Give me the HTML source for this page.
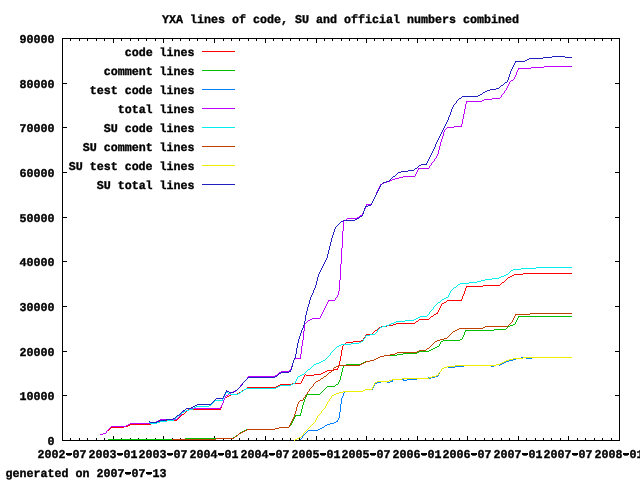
<!DOCTYPE html>
<html><head><meta charset="utf-8"><title>YXA lines of code</title>
<style>
html,body{margin:0;padding:0;background:#fff;}
body{width:640px;height:480px;overflow:hidden;}
svg{display:block;will-change:transform;}
text{font-family:"Liberation Mono","DejaVu Sans Mono",monospace;font-weight:bold;font-size:11.9px;fill:#000;text-rendering:geometricPrecision;stroke:#000;stroke-width:0.35px;}
</style></head><body>
<svg width="640" height="480" viewBox="0 0 640 480">
<rect width="640" height="480" fill="#fff"/>
<g stroke="#000" stroke-width="1" fill="none" shape-rendering="crispEdges">
<rect x="62.5" y="38.5" width="557" height="402"/>
<path d="M63 395.5H67M619 395.5H615"/><path d="M63 351.5H67M619 351.5H615"/><path d="M63 306.5H67M619 306.5H615"/><path d="M63 261.5H67M619 261.5H615"/><path d="M63 217.5H67M619 217.5H615"/><path d="M63 172.5H67M619 172.5H615"/><path d="M63 127.5H67M619 127.5H615"/><path d="M63 83.5H67M619 83.5H615"/>
<path d="M70.5 440V438M70.5 39V41"/><path d="M79.5 440V438M79.5 39V41"/><path d="M87.5 440V438M87.5 39V41"/><path d="M96.5 440V438M96.5 39V41"/><path d="M104.5 440V438M104.5 39V41"/><path d="M113.5 440V436M113.5 39V43"/><path d="M121.5 440V438M121.5 39V41"/><path d="M130.5 440V438M130.5 39V41"/><path d="M138.5 440V438M138.5 39V41"/><path d="M146.5 440V438M146.5 39V41"/><path d="M155.5 440V438M155.5 39V41"/><path d="M163.5 440V436M163.5 39V43"/><path d="M172.5 440V438M172.5 39V41"/><path d="M180.5 440V438M180.5 39V41"/><path d="M189.5 440V438M189.5 39V41"/><path d="M197.5 440V438M197.5 39V41"/><path d="M206.5 440V438M206.5 39V41"/><path d="M214.5 440V436M214.5 39V43"/><path d="M223.5 440V438M223.5 39V41"/><path d="M231.5 440V438M231.5 39V41"/><path d="M239.5 440V438M239.5 39V41"/><path d="M248.5 440V438M248.5 39V41"/><path d="M256.5 440V438M256.5 39V41"/><path d="M265.5 440V436M265.5 39V43"/><path d="M273.5 440V438M273.5 39V41"/><path d="M282.5 440V438M282.5 39V41"/><path d="M290.5 440V438M290.5 39V41"/><path d="M299.5 440V438M299.5 39V41"/><path d="M307.5 440V438M307.5 39V41"/><path d="M316.5 440V436M316.5 39V43"/><path d="M324.5 440V438M324.5 39V41"/><path d="M332.5 440V438M332.5 39V41"/><path d="M341.5 440V438M341.5 39V41"/><path d="M349.5 440V438M349.5 39V41"/><path d="M357.5 440V438M357.5 39V41"/><path d="M366.5 440V436M366.5 39V43"/><path d="M374.5 440V438M374.5 39V41"/><path d="M383.5 440V438M383.5 39V41"/><path d="M391.5 440V438M391.5 39V41"/><path d="M400.5 440V438M400.5 39V41"/><path d="M408.5 440V438M408.5 39V41"/><path d="M417.5 440V436M417.5 39V43"/><path d="M425.5 440V438M425.5 39V41"/><path d="M433.5 440V438M433.5 39V41"/><path d="M442.5 440V438M442.5 39V41"/><path d="M450.5 440V438M450.5 39V41"/><path d="M459.5 440V438M459.5 39V41"/><path d="M467.5 440V436M467.5 39V43"/><path d="M475.5 440V438M475.5 39V41"/><path d="M484.5 440V438M484.5 39V41"/><path d="M492.5 440V438M492.5 39V41"/><path d="M501.5 440V438M501.5 39V41"/><path d="M509.5 440V438M509.5 39V41"/><path d="M518.5 440V436M518.5 39V43"/><path d="M526.5 440V438M526.5 39V41"/><path d="M535.5 440V438M535.5 39V41"/><path d="M543.5 440V438M543.5 39V41"/><path d="M551.5 440V438M551.5 39V41"/><path d="M560.5 440V438M560.5 39V41"/><path d="M568.5 440V436M568.5 39V43"/><path d="M577.5 440V438M577.5 39V41"/><path d="M585.5 440V438M585.5 39V41"/><path d="M594.5 440V438M594.5 39V41"/><path d="M602.5 440V438M602.5 39V41"/><path d="M611.5 440V438M611.5 39V41"/>
</g>
<g fill="none" stroke-width="1" shape-rendering="crispEdges">
<path stroke="#ff0000" d="M523 273.5h49M514 274.5h9M512 275.5h2M510 276.5h2M508 277.5h2M502 282.5h2M483 285.5h17M466 286.5h17M447 300.5h15M444 302.5h2M442 303.5h2M436 313.5h2M434 314.5h2M431 316.5h2M419 319.5h10M416 321.5h2M396 323.5h19M393 324.5h3M387 325.5h6M381 326.5h6M379 327.5h2M375 330.5h2M366 334.5h6M361 340.5h2M353 341.5h8M346 342.5h7M334 369.5h4M327 370.5h7M325 371.5h2M323 372.5h2M321 373.5h2M314 374.5h7M306 375.5h8M292 383.5h9M280 384.5h12M278 385.5h2M276 386.5h2M247 387.5h29M244 389.5h2M242 390.5h2M239 392.5h2M237 393.5h2M231 394.5h6M229 395.5h2M227 396.5h2M225 397.5h2M188 409.5h33M182 414.5h2M160 420.5h17M157 421.5h3M154 422.5h3M151 423.5h3M130 424.5h21M128 425.5h2M124 426.5h4M111 427.5h13M108.5 430v1M109.5 429v1M110.5 428v1M177.5 419v1M178.5 418v1M179.5 417v1M180.5 416v1M181.5 415v1M184.5 413v1M185.5 412v1M186.5 411v1M187.5 410v1M220.5 408v1M221.5 405v3M222.5 403v2M223.5 400v3M224.5 398v2M241.5 391v1M246.5 388v1M301.5 381v2M302.5 379v2M303.5 377v2M304.5 375v2M305.5 374v1M337.5 368v1M338.5 365v3M339.5 361v4M340.5 356v5M341.5 350v6M342.5 346v4M343.5 345v1M344.5 344v1M345.5 343v1M363.5 338v2M364.5 337v1M365.5 335v2M372.5 333v1M373.5 332v1M374.5 331v1M377.5 329v1M378.5 328v1M415.5 322v1M418.5 320v1M429.5 318v1M430.5 317v1M433.5 315v1M437.5 312v1M438.5 310v2M439.5 308v2M440.5 306v2M441.5 304v2M446.5 301v1M461.5 299v1M462.5 296v3M463.5 294v2M464.5 291v3M465.5 288v3M466.5 287v1M500.5 284v1M501.5 283v1M504.5 281v1M505.5 280v1M506.5 279v1M507.5 278v1"/>
<path stroke="#00c000" d="M518 316.5h54M513 324.5h2M510 325.5h3M508 326.5h2M494 329.5h12M465 330.5h29M460 339.5h2M443 340.5h17M441 341.5h2M437 346.5h2M435 347.5h2M433 348.5h2M431 349.5h2M429 350.5h2M419 351.5h10M417 352.5h2M403 353.5h14M397 354.5h6M384 355.5h13M380 356.5h4M378 357.5h2M376 358.5h2M374 359.5h2M370 360.5h4M365 361.5h5M363 362.5h2M361 363.5h2M346 364.5h15M344 365.5h2M336 384.5h2M327 386.5h8M307 394.5h13M295 415.5h6M279 427.5h10M275 428.5h4M246 429.5h29M244 430.5h2M242 431.5h2M240 432.5h2M236 435.5h2M233 437.5h2M185 438.5h48M108 439.5h77M235.5 436v1M238.5 434v1M239.5 433v1M289.5 426v1M290.5 425v1M291.5 423v2M292.5 421v2M293.5 419v2M294.5 417v2M295.5 416v1M300.5 413v2M301.5 409v4M302.5 405v4M303.5 402v3M304.5 399v3M305.5 397v2M306.5 395v2M320.5 393v1M321.5 392v1M322.5 391v1M323.5 390v1M324.5 389v1M325.5 388v1M326.5 387v1M335.5 385v1M338.5 382v2M339.5 380v2M340.5 376v4M341.5 372v4M342.5 368v4M343.5 366v2M439.5 344v2M440.5 342v2M462.5 337v2M463.5 335v2M464.5 332v3M465.5 331v1M506.5 328v1M507.5 327v1M515.5 322v2M516.5 320v2M517.5 318v2M518.5 317v1"/>
<path stroke="#0080ff" d="M521 357.5h6M531 357.5h41M515 358.5h6M526 358.5h6M513 359.5h3M509 360.5h4M506 361.5h3M504 362.5h2M502 363.5h2M496 364.5h6M463 365.5h29M493 365.5h3M447 366.5h2M455 366.5h9M491 366.5h3M444 367.5h3M448 367.5h7M442 368.5h2M435 376.5h3M431 377.5h4M416 378.5h15M393 379.5h11M407 379.5h10M403 380.5h4M380 381.5h8M390 381.5h3M377 382.5h4M387 382.5h3M375 383.5h2M365 389.5h8M363 390.5h2M344 391.5h19M336 421.5h2M334 422.5h2M330 423.5h4M327 424.5h3M325 425.5h2M322 427.5h2M320 428.5h2M318 429.5h2M308 430.5h10M300.5 439v1M301.5 438v1M302.5 436v2M303.5 435v1M304.5 434v1M305.5 433v1M306.5 432v1M307.5 431v1M324.5 426v1M337.5 420v1M338.5 418v2M339.5 412v6M340.5 404v8M341.5 398v6M342.5 396v2M343.5 393v3M344.5 392v1M372.5 388v1M373.5 386v2M374.5 384v2M392.5 380v1M428.5 377v1M438.5 374v2M439.5 372v2M440.5 371v1M441.5 369v2M499.5 365v1"/>
<path stroke="#c000ff" d="M544 66.5h28M531 67.5h13M518 68.5h13M511 80.5h2M492 98.5h8M484 99.5h8M482 100.5h2M466 101.5h16M454 126.5h8M447 127.5h7M418 168.5h11M403 176.5h12M399 177.5h4M395 178.5h4M392 179.5h3M390 180.5h2M387 181.5h3M384 182.5h3M382 183.5h2M380 184.5h2M366 204.5h6M360 215.5h2M357 217.5h2M347 218.5h10M344 220.5h2M328 300.5h7M312 318.5h8M310 319.5h2M308 320.5h2M294 358.5h7M289 370.5h2M281 371.5h8M279 372.5h2M275 375.5h2M248 376.5h27M233 391.5h3M231 392.5h2M229 393.5h2M226 395.5h2M186 408.5h35M160 419.5h17M158 420.5h2M156 421.5h2M152 422.5h4M130 423.5h22M128 424.5h2M126 425.5h2M111 426.5h15M103 433.5h3M100 434.5h3M106.5 431v2M107.5 430v1M108.5 429v1M109.5 428v1M110.5 427v1M177.5 418v1M178.5 417v1M179.5 416v1M180.5 415v1M181.5 413v2M182.5 412v1M183.5 411v1M184.5 410v1M185.5 409v1M220.5 407v1M221.5 405v2M222.5 403v2M223.5 400v3M224.5 398v2M225.5 396v2M228.5 394v1M236.5 390v1M237.5 389v1M238.5 388v1M239.5 387v1M240.5 385v2M241.5 384v1M242.5 383v1M243.5 382v1M244.5 381v1M245.5 380v1M246.5 379v1M247.5 377v2M277.5 374v1M278.5 373v1M290.5 369v1M291.5 366v3M292.5 363v3M293.5 360v3M294.5 359v1M300.5 354v4M301.5 346v8M302.5 340v6M303.5 331v9M304.5 324v7M305.5 323v1M306.5 322v1M307.5 321v1M320.5 316v2M321.5 314v2M322.5 312v2M323.5 310v2M324.5 308v2M325.5 306v2M326.5 304v2M327.5 302v2M328.5 301v1M335.5 298v2M336.5 297v1M337.5 295v2M338.5 291v4M339.5 280v11M340.5 264v16M341.5 248v16M342.5 231v17M343.5 221v10M346.5 219v1M359.5 216v1M362.5 213v2M363.5 211v2M364.5 209v2M365.5 207v2M366.5 205v2M371.5 203v1M372.5 201v2M373.5 199v2M374.5 197v2M375.5 195v2M376.5 192v3M377.5 190v2M378.5 188v2M379.5 186v2M380.5 185v1M415.5 174v2M416.5 172v2M417.5 170v2M418.5 169v1M429.5 166v2M430.5 165v1M431.5 163v2M432.5 162v1M433.5 161v1M434.5 159v2M435.5 158v1M436.5 156v2M437.5 154v2M438.5 150v4M439.5 146v4M440.5 142v4M441.5 139v3M442.5 136v3M443.5 132v4M444.5 130v2M445.5 129v1M446.5 128v1M461.5 124v2M462.5 119v5M463.5 114v5M464.5 109v5M465.5 104v5M466.5 102v2M500.5 97v1M501.5 95v2M502.5 94v1M503.5 93v1M504.5 91v2M505.5 90v1M506.5 88v2M507.5 86v2M508.5 84v2M509.5 82v2M510.5 81v1M513.5 79v1M514.5 77v2M515.5 75v2M516.5 72v3M517.5 70v2M518.5 69v1"/>
<path stroke="#00eeee" d="M536 267.5h36M521 268.5h15M513 269.5h8M511 270.5h2M506 274.5h2M504 275.5h2M501 276.5h3M499 277.5h2M492 278.5h7M485 279.5h7M481 280.5h4M477 281.5h4M469 282.5h8M460 283.5h9M458 284.5h2M454 287.5h2M446 297.5h2M444 298.5h2M442 299.5h2M438 302.5h2M420 316.5h7M418 317.5h2M416 318.5h2M414 319.5h2M405 320.5h9M396 321.5h9M394 322.5h2M391 323.5h3M389 324.5h2M386 325.5h3M382 326.5h4M380 327.5h2M370 334.5h5M366 335.5h4M361 341.5h2M359 342.5h2M351 343.5h8M341 344.5h10M339 345.5h2M337 346.5h2M323 360.5h2M321 361.5h2M319 362.5h2M316 363.5h3M314 364.5h2M308 369.5h2M302 374.5h2M300 375.5h2M298 376.5h2M293 383.5h2M291 384.5h2M280 385.5h11M278 386.5h2M276 387.5h2M246 388.5h30M244 389.5h2M241 391.5h2M226 392.5h2M228 393.5h2M238 393.5h2M230 394.5h8M215 400.5h8M209 405.5h2M196 406.5h13M194 407.5h2M189 409.5h4M186 410.5h3M184 411.5h2M182 412.5h2M178 415.5h2M167 420.5h7M160 421.5h7M157 422.5h3M150 423.5h7M149.5 422v1M174.5 419v1M175.5 418v1M176.5 417v1M177.5 416v1M180.5 414v1M181.5 413v1M193.5 408v1M211.5 404v1M212.5 403v1M213.5 402v1M214.5 401v1M222.5 399v1M223.5 397v2M224.5 395v2M225.5 393v2M240.5 392v1M243.5 390v1M295.5 381v2M296.5 379v2M297.5 377v2M304.5 373v1M305.5 372v1M306.5 371v1M307.5 370v1M310.5 368v1M311.5 367v1M312.5 366v1M313.5 365v1M325.5 359v1M326.5 358v1M327.5 357v1M328.5 356v1M329.5 355v1M330.5 353v2M331.5 352v1M332.5 351v1M333.5 350v1M334.5 349v1M335.5 348v1M336.5 347v1M363.5 339v2M364.5 338v1M365.5 336v2M375.5 333v1M376.5 332v1M377.5 330v2M378.5 329v1M379.5 328v1M427.5 315v1M428.5 314v1M429.5 312v2M430.5 311v1M431.5 310v1M432.5 309v1M433.5 307v2M434.5 306v1M435.5 305v1M436.5 304v1M437.5 303v1M440.5 301v1M441.5 300v1M448.5 295v2M449.5 293v2M450.5 291v2M451.5 290v1M452.5 289v1M453.5 288v1M456.5 286v1M457.5 285v1M508.5 273v1M509.5 272v1M510.5 271v1"/>
<path stroke="#c04000" d="M530 313.5h42M515 314.5h15M485 326.5h23M483 327.5h2M459 328.5h24M457 329.5h2M455 330.5h2M453 331.5h2M444 338.5h3M440 339.5h4M437 340.5h3M435 341.5h2M427 348.5h2M419 350.5h7M417 351.5h2M397 352.5h20M395 353.5h2M390 354.5h5M384 355.5h6M380 356.5h4M378 357.5h2M376 358.5h2M374 359.5h2M370 360.5h4M366 361.5h4M364 362.5h2M362 363.5h2M360 364.5h2M338 365.5h22M336 366.5h2M334 367.5h2M329 372.5h2M324 376.5h2M321 378.5h2M318 380.5h2M316 381.5h2M300 400.5h3M279 427.5h10M275 428.5h4M247 429.5h28M245 430.5h2M243 431.5h2M241 432.5h2M239 433.5h2M235 436.5h2M216 438.5h18M172 439.5h44M234.5 437v1M237.5 435v1M238.5 434v1M289.5 425v2M290.5 423v2M291.5 421v2M292.5 419v2M293.5 417v2M294.5 414v3M295.5 411v3M296.5 407v4M297.5 404v3M298.5 402v2M299.5 401v1M303.5 398v2M304.5 397v1M305.5 395v2M306.5 394v1M307.5 392v2M308.5 391v1M309.5 389v2M310.5 388v1M311.5 387v1M312.5 386v1M313.5 384v2M314.5 383v1M315.5 382v1M320.5 379v1M323.5 377v1M326.5 375v1M327.5 374v1M328.5 373v1M331.5 371v1M332.5 370v1M333.5 368v2M426.5 349v1M429.5 347v1M430.5 346v1M431.5 345v1M432.5 344v1M433.5 343v1M434.5 342v1M447.5 337v1M448.5 336v1M449.5 335v1M450.5 334v1M451.5 333v1M452.5 332v1M508.5 325v1M509.5 324v1M510.5 323v1M511.5 322v1M512.5 320v2M513.5 318v2M514.5 316v2M515.5 315v1"/>
<path stroke="#eeee00" d="M523 357.5h49M513 358.5h10M509 359.5h4M506 360.5h3M504 361.5h2M502 362.5h2M500 363.5h2M496 364.5h4M455 365.5h41M447 366.5h8M444 367.5h3M442 368.5h2M436 375.5h2M432 376.5h4M429 377.5h3M402 378.5h27M392 379.5h10M389 380.5h3M377 381.5h12M375 382.5h2M365 389.5h7M363 390.5h2M343 391.5h20M339 392.5h4M336 393.5h3M334 394.5h2M332 395.5h2M299 437.5h2M297 438.5h2M295 439.5h2M294.5 440v1M301.5 436v1M302.5 435v1M303.5 433v2M304.5 432v1M305.5 431v1M306.5 430v1M307.5 429v1M308.5 428v1M309.5 427v1M310.5 426v1M311.5 425v1M312.5 424v1M313.5 423v1M314.5 422v1M315.5 420v2M316.5 418v2M317.5 416v2M318.5 415v1M319.5 414v1M320.5 413v1M321.5 411v2M322.5 410v1M323.5 409v1M324.5 408v1M325.5 406v2M326.5 404v2M327.5 402v2M328.5 401v1M329.5 399v2M330.5 398v1M331.5 396v2M372.5 387v2M373.5 385v2M374.5 383v2M438.5 373v2M439.5 372v1M440.5 371v1M441.5 369v2"/>
<path stroke="#2020c0" d="M552 56.5h13M543 57.5h9M565 57.5h7M529 58.5h14M527 59.5h2M525 60.5h2M515 61.5h10M505 82.5h2M501 85.5h2M496 88.5h3M490 89.5h6M487 90.5h3M485 91.5h2M483 92.5h2M480 94.5h2M478 95.5h2M462 96.5h16M459 98.5h2M421 164.5h6M419 165.5h2M415 168.5h2M408 170.5h6M401 171.5h7M398 172.5h3M393 176.5h2M386 181.5h3M383 182.5h3M368 205.5h3M365 206.5h3M360 216.5h2M357 218.5h2M355 219.5h2M343 220.5h12M341 221.5h2M289 371.5h2M281 372.5h8M279 373.5h2M275 376.5h2M248 377.5h27M235 390.5h2M226 391.5h3M229 392.5h5M216 398.5h7M197 404.5h14M195 405.5h2M193 406.5h2M191 407.5h2M186 408.5h5M183 410.5h2M177 415.5h2M173 418.5h2M166 419.5h7M159 420.5h7M157 421.5h2M150 422.5h7M149.5 421v1M175.5 417v1M176.5 416v1M179.5 414v1M180.5 413v1M181.5 412v1M182.5 411v1M185.5 409v1M211.5 403v1M212.5 402v1M213.5 401v1M214.5 400v1M215.5 399v1M223.5 396v2M224.5 394v2M225.5 392v2M226.5 390v1M234.5 391v1M237.5 389v1M238.5 388v1M239.5 387v1M240.5 386v1M241.5 385v1M242.5 383v2M243.5 382v1M244.5 381v1M245.5 380v1M246.5 379v1M247.5 378v1M277.5 375v1M278.5 374v1M290.5 370v1M291.5 367v3M292.5 363v4M293.5 360v3M294.5 358v2M295.5 354v4M296.5 348v6M297.5 343v5M298.5 339v4M299.5 336v3M300.5 333v3M301.5 330v3M302.5 328v2M303.5 325v3M304.5 321v4M305.5 315v6M306.5 311v4M307.5 307v4M308.5 304v3M309.5 300v4M310.5 297v3M311.5 295v2M312.5 293v2M313.5 290v3M314.5 288v2M315.5 285v3M316.5 281v4M317.5 277v4M318.5 274v3M319.5 272v2M320.5 270v2M321.5 268v2M322.5 266v2M323.5 264v2M324.5 262v2M325.5 260v2M326.5 258v2M327.5 254v4M328.5 250v4M329.5 246v4M330.5 242v4M331.5 238v4M332.5 235v3M333.5 232v3M334.5 229v3M335.5 227v2M336.5 226v1M337.5 225v1M338.5 224v1M339.5 223v1M340.5 222v1M359.5 217v1M362.5 214v2M363.5 211v3M364.5 208v3M365.5 207v1M371.5 203v2M372.5 201v2M373.5 199v2M374.5 197v2M375.5 195v2M376.5 193v2M377.5 191v2M378.5 189v2M379.5 187v2M380.5 185v2M381.5 184v1M382.5 183v1M389.5 180v1M390.5 179v1M391.5 178v1M392.5 177v1M395.5 175v1M396.5 174v1M397.5 173v1M414.5 169v1M417.5 167v1M418.5 166v1M426.5 163v1M427.5 161v2M428.5 159v2M429.5 157v2M430.5 155v2M431.5 153v2M432.5 151v2M433.5 149v2M434.5 147v2M435.5 144v3M436.5 142v2M437.5 140v2M438.5 138v2M439.5 136v2M440.5 134v2M441.5 132v2M442.5 130v2M443.5 128v2M444.5 126v2M445.5 124v2M446.5 122v2M447.5 120v2M448.5 117v3M449.5 115v2M450.5 112v3M451.5 109v3M452.5 107v2M453.5 105v2M454.5 104v1M455.5 103v1M456.5 101v2M457.5 100v1M458.5 99v1M461.5 97v1M482.5 93v1M499.5 87v1M500.5 86v1M503.5 84v1M504.5 83v1M507.5 80v2M508.5 77v3M509.5 74v3M510.5 71v3M511.5 69v2M512.5 67v2M513.5 65v2M514.5 63v2M515.5 62v1"/>
<path stroke="#ff0000" d="M202 51.5H235"/><path stroke="#00c000" d="M202 70.5H235"/><path stroke="#0080ff" d="M202 89.5H235"/><path stroke="#c000ff" d="M202 108.5H235"/><path stroke="#00eeee" d="M202 127.5H235"/><path stroke="#c04000" d="M202 146.5H235"/><path stroke="#eeee00" d="M202 165.5H235"/><path stroke="#2020c0" d="M202 184.5H235"/>
</g>
<g>
<text transform="translate(340.5,23) scale(0.9804,1)" text-anchor="middle">YXA lines of code, SU and official numbers combined</text>
<text transform="translate(54.6,445) scale(0.9804,1)" text-anchor="end">0</text>
<text transform="translate(54.6,400) scale(0.9804,1)" text-anchor="end">10000</text>
<text transform="translate(54.6,356) scale(0.9804,1)" text-anchor="end">20000</text>
<text transform="translate(54.6,311) scale(0.9804,1)" text-anchor="end">30000</text>
<text transform="translate(54.6,266) scale(0.9804,1)" text-anchor="end">40000</text>
<text transform="translate(54.6,222) scale(0.9804,1)" text-anchor="end">50000</text>
<text transform="translate(54.6,177) scale(0.9804,1)" text-anchor="end">60000</text>
<text transform="translate(54.6,132) scale(0.9804,1)" text-anchor="end">70000</text>
<text transform="translate(54.6,88) scale(0.9804,1)" text-anchor="end">80000</text>
<text transform="translate(54.6,43) scale(0.9804,1)" text-anchor="end">90000</text>
<text transform="translate(62,458) scale(0.9804,1)" text-anchor="middle">2002-07</text>
<text transform="translate(113,458) scale(0.9804,1)" text-anchor="middle">2003-01</text>
<text transform="translate(163,458) scale(0.9804,1)" text-anchor="middle">2003-07</text>
<text transform="translate(214,458) scale(0.9804,1)" text-anchor="middle">2004-01</text>
<text transform="translate(265,458) scale(0.9804,1)" text-anchor="middle">2004-07</text>
<text transform="translate(316,458) scale(0.9804,1)" text-anchor="middle">2005-01</text>
<text transform="translate(366,458) scale(0.9804,1)" text-anchor="middle">2005-07</text>
<text transform="translate(417,458) scale(0.9804,1)" text-anchor="middle">2006-01</text>
<text transform="translate(467,458) scale(0.9804,1)" text-anchor="middle">2006-07</text>
<text transform="translate(518,458) scale(0.9804,1)" text-anchor="middle">2007-01</text>
<text transform="translate(568,458) scale(0.9804,1)" text-anchor="middle">2007-07</text>
<text transform="translate(619,458) scale(0.9804,1)" text-anchor="middle">2008-01</text>
<text transform="translate(194.6,56) scale(0.9804,1)" text-anchor="end">code lines</text>
<text transform="translate(194.6,75) scale(0.9804,1)" text-anchor="end">comment lines</text>
<text transform="translate(194.6,94) scale(0.9804,1)" text-anchor="end">test code lines</text>
<text transform="translate(194.6,113) scale(0.9804,1)" text-anchor="end">total lines</text>
<text transform="translate(194.6,132) scale(0.9804,1)" text-anchor="end">SU code lines</text>
<text transform="translate(194.6,151) scale(0.9804,1)" text-anchor="end">SU comment lines</text>
<text transform="translate(194.6,170) scale(0.9804,1)" text-anchor="end">SU test code lines</text>
<text transform="translate(194.6,189) scale(0.9804,1)" text-anchor="end">SU total lines</text>
<text transform="translate(5.5,477) scale(0.9804,1)" text-anchor="start">generated on 2007-07-13</text>
<g fill="#000" shape-rendering="crispEdges"><rect x="66" y="453" width="6" height="2"/><rect x="117" y="453" width="6" height="2"/><rect x="167" y="453" width="6" height="2"/><rect x="218" y="453" width="6" height="2"/><rect x="269" y="453" width="6" height="2"/><rect x="320" y="453" width="6" height="2"/><rect x="370" y="453" width="6" height="2"/><rect x="421" y="453" width="6" height="2"/><rect x="471" y="453" width="6" height="2"/><rect x="522" y="453" width="6" height="2"/><rect x="572" y="453" width="6" height="2"/><rect x="623" y="453" width="6" height="2"/><rect x="125" y="472" width="6" height="2"/><rect x="146" y="472" width="6" height="2"/></g>
</g>
</svg>
</body></html>
